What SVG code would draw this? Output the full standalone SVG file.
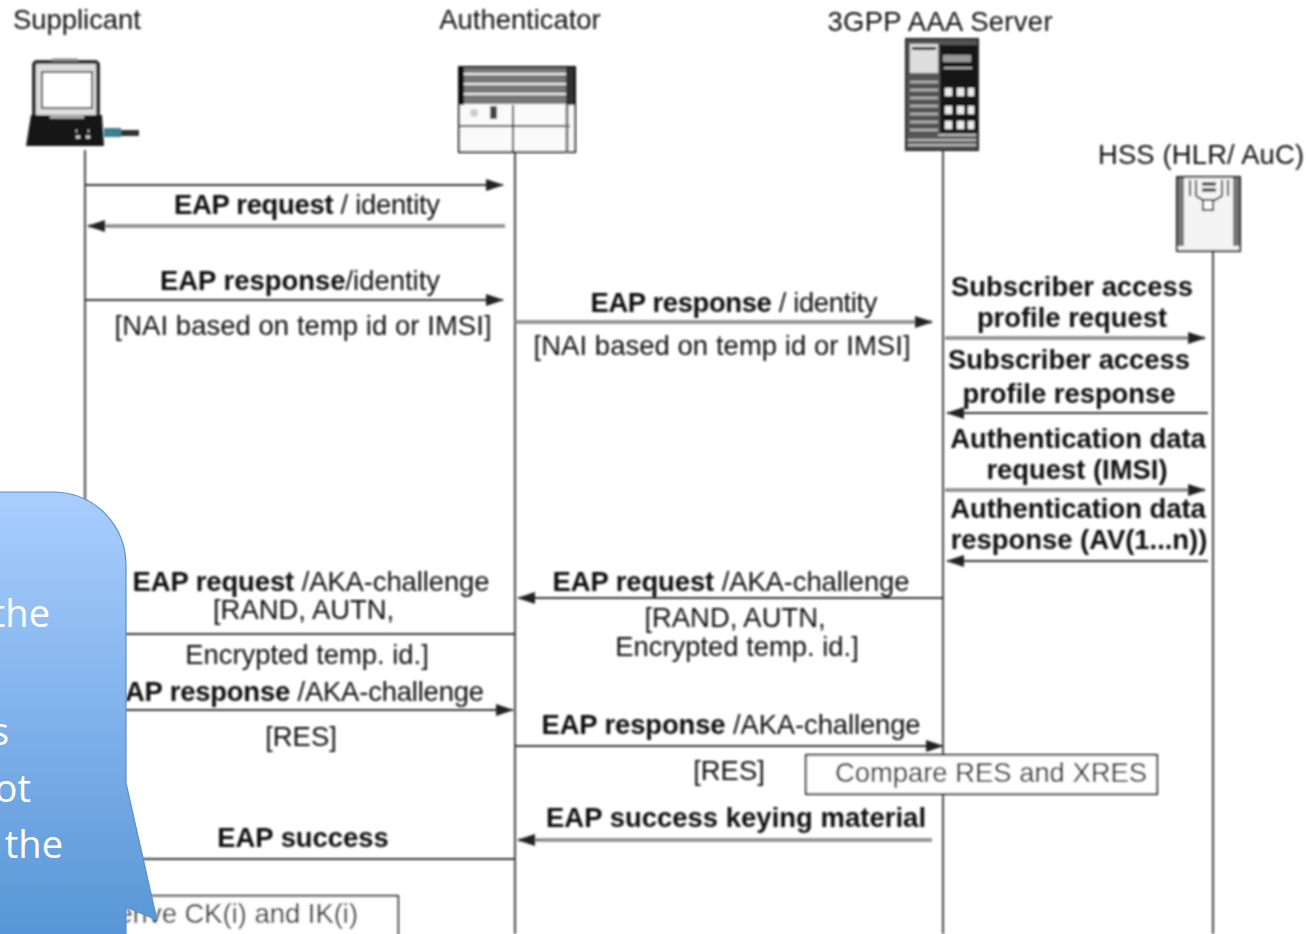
<svg xmlns="http://www.w3.org/2000/svg" width="1306" height="934" viewBox="0 0 1306 934">
<style>
text{font-family:"Liberation Sans",Arial,sans-serif;font-size:27.4px;fill:#111;text-anchor:middle}
.b{font-weight:700}
.n{text-anchor:start}
.life{stroke:#444;stroke-width:2;fill:none}
.a{stroke:#333;stroke-width:2;fill:none}
.g{stroke:#888;stroke-width:3.5;fill:none}
.box{fill:#fff;stroke:#222;stroke-width:2}
.co{font-family:"Open Sans","Noto Sans",sans-serif;font-size:38px;fill:#fff;text-anchor:end}
</style>
<defs>
<marker id="ah" markerUnits="userSpaceOnUse" markerWidth="18" markerHeight="12" refX="17" refY="6" orient="auto"><path d="M0 0L18 6L0 12Z" fill="#222"/></marker>
<linearGradient id="cg" x1="0" y1="0" x2="0" y2="1"><stop offset="0" stop-color="#a9cefe"/><stop offset="1" stop-color="#5695d6"/></linearGradient>
<filter id="soft" x="-2%" y="-2%" width="104%" height="104%"><feGaussianBlur stdDeviation="0.8"/></filter>
</defs>
<rect width="1306" height="934" fill="#fff"/>
<g filter="url(#soft)">
<g id="connectors">
<path class="life" d="M85 150V934M515 152V934M943 150V934M1213 250V934"/>
<path class="a" d="M85 185H503" marker-end="url(#ah)"/>
<path class="g" d="M505 226H88" marker-end="url(#ah)"/>
<path class="a" d="M85 300H503" marker-end="url(#ah)"/>
<path class="g" d="M515 322H932" marker-end="url(#ah)"/>
<path class="g" d="M945 338H1205" marker-end="url(#ah)"/>
<path class="a" d="M1208 413H947" marker-end="url(#ah)"/>
<path class="g" d="M945 490H1205" marker-end="url(#ah)"/>
<path class="a" d="M1208 561H947" marker-end="url(#ah)"/>
<path class="a" d="M943 598H518" marker-end="url(#ah)"/>
<path class="a" d="M515 634H90"/>
<path class="a" d="M85 710H513" marker-end="url(#ah)"/>
<path class="a" d="M515 746H943" marker-end="url(#ah)"/>
<path class="g" d="M932 840H518" marker-end="url(#ah)"/>
<path class="a" d="M515 859H90"/>
</g>
<g id="supplicant">
<text x="77" y="29">Supplicant</text>
<rect x="34" y="62" width="64" height="56" rx="3" fill="#ddd" stroke="#333" stroke-width="4"/>
<rect x="42" y="72" width="50" height="36" fill="#fff" stroke="#444" stroke-width="2"/>
<path d="M52 60H78" stroke="#888" stroke-width="3"/>
<path d="M31 115H102L104 146H26Z" fill="#161616"/>
<path d="M50 117H84" stroke="#bbb" stroke-width="3"/>
<path d="M76 137h4M86 137h4M76 131h1M88 131h1" stroke="#ddd" stroke-width="3"/>
<rect x="104" y="128" width="17" height="9" fill="#3f7f8c"/>
<rect x="121" y="130" width="18" height="6" fill="#333"/>
</g>
<g id="authenticator">
<text x="520" y="29">Authenticator</text>
<rect x="459" y="67" width="116" height="85" fill="#fafafa" stroke="#111" stroke-width="2"/>
<rect x="460" y="68" width="114" height="36" fill="#777"/>
<path d="M462 74H572M462 84H572M462 94H572" stroke="#eee" stroke-width="2"/>
<rect x="459" y="68" width="5" height="37" fill="#111"/>
<rect x="566" y="68" width="8" height="37" fill="#333"/>
<path d="M459 126H570M513 105V152" stroke="#333" stroke-width="2"/>
<path d="M567 105V152" stroke="#777" stroke-width="3"/>
<circle cx="474" cy="113" r="4" fill="#ccc"/>
<rect x="490" y="106" width="7" height="13" fill="#444"/>
</g>
<g id="aaa-server">
<text x="940" y="31" textLength="225">3GPP AAA Server</text>
<rect x="906" y="39" width="72" height="111" fill="#555" stroke="#222" stroke-width="2"/>
<rect x="910" y="44" width="28" height="29" fill="#ddd"/>
<rect x="912" y="47" width="24" height="3" fill="#222"/>
<path d="M910 82H938M910 90H938M910 98H938M910 106H938M910 114H938M910 122H938M910 130H938M908 140H976M908 145H976" stroke="#bbb" stroke-width="2"/>
<rect x="940" y="45" width="37" height="88" fill="#161616"/>
<rect x="943" y="55" width="28" height="7" fill="#999"/>
<path d="M944 68H972" stroke="#aaa" stroke-width="2"/>
<path d="M945 92h7M957 92h7M968 92h6M945 110h7M957 110h7M968 110h6M945 125h7M957 125h7M968 125h6" stroke="#eee" stroke-width="8"/>
<path d="M938 135H976" stroke="#bbb" stroke-width="2"/>
</g>
<g id="hss">
<text x="1201" y="164" textLength="206">HSS (HLR/ AuC)</text>
<rect x="1177" y="177" width="63" height="74" fill="#f4f4f4" stroke="#222" stroke-width="2"/>
<path d="M1181 178V246M1236 178V246" stroke="#777" stroke-width="6"/>
<path d="M1190 180V196M1196 180V196M1222 180V196M1228 180V196" stroke="#222" stroke-width="2"/>
<path d="M1196 196L1203 200H1215L1222 196" stroke="#222" stroke-width="2" fill="none"/>
<rect x="1203" y="200" width="10" height="10" fill="#fff" stroke="#222" stroke-width="2"/>
<path d="M1202 184h14M1202 190h14" stroke="#222" stroke-width="3"/>
</g>
<g id="labels">
<text x="307" y="214" textLength="266"><tspan class="b">EAP request</tspan> / identity</text>
<text x="300" y="290" textLength="280"><tspan class="b">EAP response</tspan>/identity</text>
<text x="303" y="335" textLength="377">[NAI based on temp id or IMSI]</text>
<text x="734" y="312" textLength="287"><tspan class="b">EAP response</tspan> / identity</text>
<text x="722" y="355" textLength="377">[NAI based on temp id or IMSI]</text>
<text class="b" x="1072" y="296">Subscriber access</text>
<text class="b" x="1072" y="327">profile request</text>
<text class="b" x="1069" y="369">Subscriber access</text>
<text class="b" x="1069" y="403">profile response</text>
<text class="b" x="1078" y="448">Authentication data</text>
<text class="b" x="1077" y="479">request (IMSI)</text>
<text class="b" x="1078" y="518">Authentication data</text>
<text class="b" x="1079" y="549">response (AV(1...n))</text>
<text x="311" y="591" textLength="357"><tspan class="b">EAP request</tspan> /AKA-challenge</text>
<text class="n" x="213" y="619">[RAND, AUTN,</text>
<text x="307" y="664">Encrypted temp. id.]</text>
<text class="n" x="125" y="701" textLength="359"><tspan class="b">AP response</tspan> /AKA-challenge</text>
<text x="301" y="746">[RES]</text>
<text class="b" x="303" y="847">EAP success</text>
<text x="731" y="591" textLength="357"><tspan class="b">EAP request</tspan> /AKA-challenge</text>
<text x="735" y="627">[RAND, AUTN,</text>
<text x="737" y="656">Encrypted temp. id.]</text>
<text x="731" y="734" textLength="379"><tspan class="b">EAP response</tspan> /AKA-challenge</text>
<text x="729" y="780">[RES]</text>
<text class="b" x="736" y="827" textLength="380">EAP success keying material</text>
</g>
<g id="compare">
<rect class="box" x="806" y="755" width="351" height="39"/>
<text x="991" y="782">Compare RES and XRES</text>
</g>
<g id="derive">
<rect class="box" x="90" y="896" width="308" height="50"/>
<text x="358" y="923" style="text-anchor:end">Derive CK(i) and IK(i)</text>
</g>
</g>
<g id="callout">
<path d="M-10 492H52C95 492 126 525 126 566V783L157 920L126 907V944H-10Z" fill="url(#cg)" stroke="#5a90c8" stroke-width="1.2"/>
<text class="co" x="50" y="627">the</text>
<text class="co" x="9" y="745">s</text>
<text class="co" x="31" y="802">ot</text>
<text class="co" x="63" y="858">the</text>
</g>
</svg>
